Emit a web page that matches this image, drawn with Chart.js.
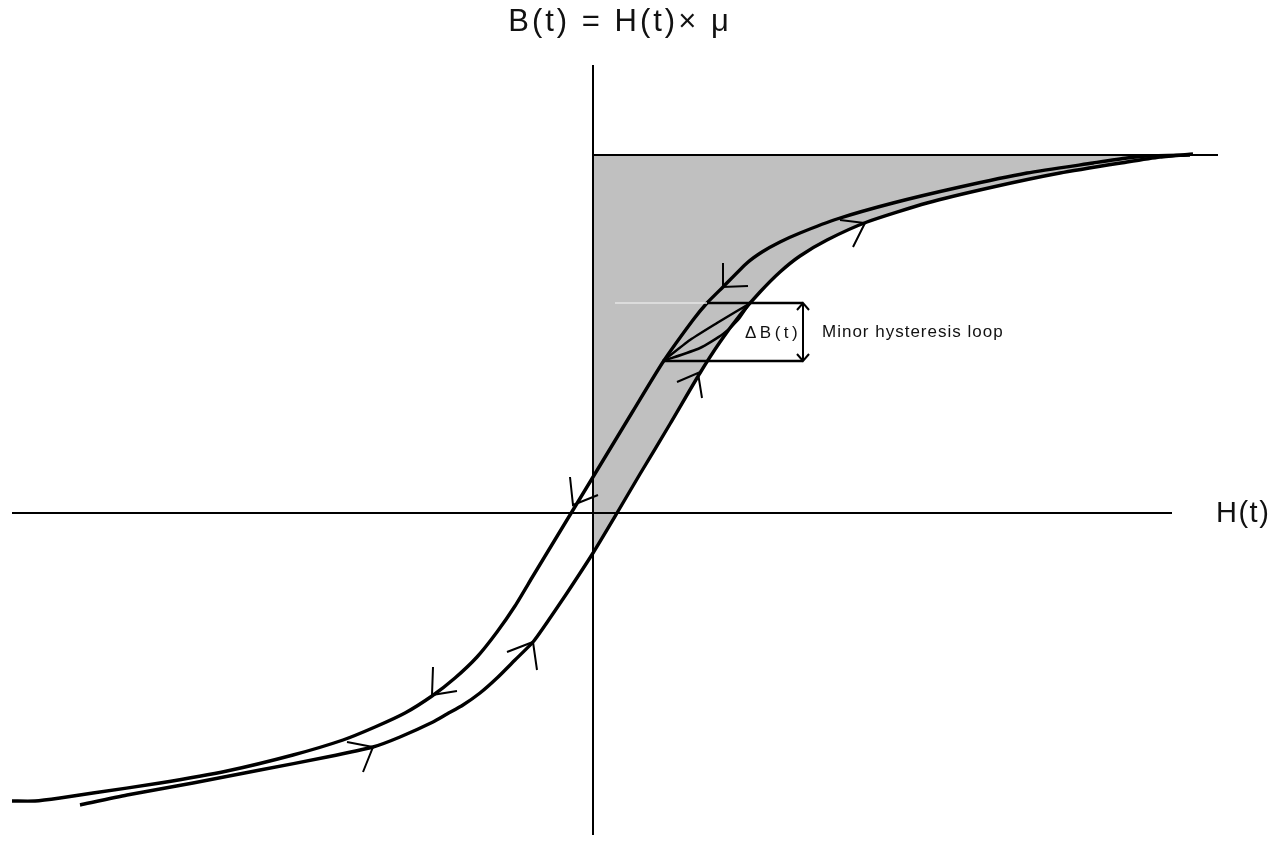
<!DOCTYPE html>
<html lang="en">
<head>
<meta charset="UTF-8">
<title>B(t) = H(t) × μ</title>
<script src="https://cdn.jsdelivr.net/npm/chart.js"></script>
<style>
  html, body { margin: 0; padding: 0; background: #fff; }
  #wrap { width: 1280px; height: 865px; }
</style>
</head>
<body>
<div id="wrap"><canvas id="loop" width="1280" height="865"></canvas></div>
<script>
// descending branch (upper/left), top right -> bottom left
const H_DOWN = [5.97, 5.54, 5.34, 5.00, 4.34, 3.67, 3.00, 2.44, 2.07, 1.87, 1.69, 1.54, 1.30, 1.14, 1.00, 0.70, 0.40, 0.20, 0.00, -0.20, -0.40, -0.60, -0.78, -0.96, -1.16, -1.38, -1.61, -1.88, -2.18, -2.50, -3.00, -3.66, -4.33, -5.00, -5.33, -5.58, -5.81];
const B_DOWN = [3.58, 3.57, 3.55, 3.50, 3.40, 3.26, 3.10, 2.94, 2.80, 2.71, 2.61, 2.50, 2.26, 2.10, 1.93, 1.51, 1.02, 0.69, 0.36, 0.03, -0.30, -0.63, -0.93, -1.19, -1.44, -1.65, -1.83, -2.00, -2.14, -2.27, -2.42, -2.58, -2.70, -2.80, -2.85, -2.88, -2.88];

// ascending branch (lower/right), bottom left -> top right
const H_UP = [-5.13, -4.66, -4.00, -3.33, -2.66, -2.20, -1.93, -1.60, -1.46, -1.30, -1.13, -0.96, -0.78, -0.60, -0.45, -0.26, 0.00, 0.24, 0.47, 0.77, 1.07, 1.27, 1.47, 1.67, 1.87, 2.07, 2.34, 2.74, 3.34, 4.00, 4.67, 5.34, 5.67, 6.00];
const B_UP = [-2.92, -2.82, -2.70, -2.57, -2.44, -2.34, -2.24, -2.09, -2.01, -1.92, -1.80, -1.65, -1.47, -1.29, -1.08, -0.80, -0.40, 0.00, 0.39, 0.89, 1.40, 1.71, 1.98, 2.21, 2.41, 2.57, 2.73, 2.91, 3.10, 3.26, 3.40, 3.51, 3.56, 3.59];

// minor loop
const H_MINOR_A = [0.70, 0.97, 1.24, 1.44, 1.56];
const B_MINOR_A = [1.52, 1.73, 1.90, 2.02, 2.09];
const H_MINOR_B = [0.70, 1.07, 1.30, 1.45, 1.56];
const B_MINOR_B = [1.52, 1.65, 1.79, 1.93, 2.09];
const B_MINOR_TOP = 2.10, B_MINOR_BOT = 1.52, H_MINOR_BAR = 2.10;

// axes, saturation line
const H_AXIS = [-5.81, 5.79];
const B_AXIS = [-3.22, 4.48];
const B_SAT = 3.58, H_SAT_END = 6.25;

// direction arrows: [end1, vertex, end2] as H / B triples
const ARROWS_H = [[1.30, 1.30, 1.55], [-0.23, -0.20, 0.05], [-1.60, -1.61, -1.36],
                  [-2.46, -2.20, -2.30], [-0.86, -0.60, -0.56], [0.84, 1.05, 1.09], [2.47, 2.72, 2.60]];
const ARROWS_B = [[2.50, 2.26, 2.27], [0.36, 0.08, 0.18], [-1.54, -1.82, -1.78],
                  [-2.29, -2.34, -2.59], [-1.39, -1.29, -1.57], [1.31, 1.40, 1.15], [2.93, 2.90, 2.66]];

const LABELS = [
  { text: 'B(t) = H(t)× μ', h: 0.27, b: 4.91, font: '31px "Liberation Sans", Arial, sans-serif', align: 'center', spacing: '3px' },
  { text: 'H(t)', h: 6.23, b: -0.01, font: '29px "Liberation Sans", Arial, sans-serif', align: 'left', spacing: '1.5px' },
  { text: 'ΔB(t)', h: 1.52, b: 1.80, font: '17px "Liberation Sans", Arial, sans-serif', align: 'left', spacing: '3.5px' },
  { text: 'Minor hysteresis loop', h: 2.29, b: 1.81, font: '17px "Liberation Sans", Arial, sans-serif', align: 'left', spacing: '1px' }
];

function pts(hs, bs) { return hs.map((h, i) => ({ x: h, y: bs[i] })); }

function line(data, width, color) {
  return { data: data, showLine: true, borderColor: color || '#000', borderWidth: width, pointRadius: 0, fill: false, tension: 0 };
}

// grey area: between the saturation line, the B axis and the ascending branch
const upRight = pts(H_UP, B_UP).filter(p => p.x >= 0);
const shade = upRight.concat([{ x: 0, y: B_SAT }]);

const datasets = [
  { data: shade, showLine: true, borderWidth: 0, borderColor: 'rgba(0,0,0,0)', backgroundColor: '#c0c0c0', pointRadius: 0, fill: 'shape', tension: 0.2 },
  line([{ x: 0.22, y: B_MINOR_TOP }, { x: 1.14, y: B_MINOR_TOP }], 1.5, '#e6e6e6'),
  line(pts(H_AXIS, [0, 0]), 2),
  line(pts([0, 0], B_AXIS), 2),
  line([{ x: 0, y: B_SAT }, { x: H_SAT_END, y: B_SAT }], 2),
  Object.assign(line(pts(H_DOWN, B_DOWN), 3.4), { tension: 0.2 }),
  Object.assign(line(pts(H_UP, B_UP), 3.4), { tension: 0.2 }),
  Object.assign(line(pts(H_MINOR_A, B_MINOR_A), 2.5), { tension: 0.2 }),
  Object.assign(line(pts(H_MINOR_B, B_MINOR_B), 2.5), { tension: 0.2 }),
  line([{ x: 1.14, y: B_MINOR_TOP }, { x: H_MINOR_BAR, y: B_MINOR_TOP }], 2.5),
  line([{ x: H_MINOR_A[0], y: B_MINOR_BOT }, { x: H_MINOR_BAR, y: B_MINOR_BOT }], 2.5),
  line([{ x: H_MINOR_BAR, y: B_MINOR_TOP }, { x: H_MINOR_BAR, y: B_MINOR_BOT }], 2),
  line(pts([H_MINOR_BAR - 0.06, H_MINOR_BAR, H_MINOR_BAR + 0.06], [B_MINOR_TOP - 0.07, B_MINOR_TOP, B_MINOR_TOP - 0.07]), 2),
  line(pts([H_MINOR_BAR - 0.06, H_MINOR_BAR, H_MINOR_BAR + 0.06], [B_MINOR_BOT + 0.07, B_MINOR_BOT, B_MINOR_BOT + 0.07]), 2)
];
ARROWS_H.forEach((hs, i) => datasets.push(line(pts(hs, ARROWS_B[i]), 2)));

const textLabels = {
  id: 'textLabels',
  afterDatasetsDraw(chart) {
    const { ctx, scales: { x, y } } = chart;
    ctx.save();
    ctx.fillStyle = '#111';
    ctx.textBaseline = 'middle';
    LABELS.forEach(l => {
      ctx.font = l.font;
      ctx.textAlign = l.align;
      ctx.letterSpacing = l.spacing;
      ctx.fillText(l.text, x.getPixelForValue(l.h), y.getPixelForValue(l.b));
    });
    ctx.restore();
  }
};

new Chart(document.getElementById('loop'), {
  type: 'scatter',
  data: { datasets: datasets },
  options: {
    responsive: false,
    animation: false,
    devicePixelRatio: 1,
    layout: { padding: 0 },
    plugins: {
      legend: { display: false },
      tooltip: { enabled: false },
      filler: { drawTime: 'beforeDatasetsDraw' }
    },
    scales: {
      x: { type: 'linear', display: false, min: -5.93, max: 6.87 },
      y: { type: 'linear', display: false, min: -3.52, max: 5.13 }
    }
  },
  plugins: [textLabels]
});
</script>
</body>
</html>
